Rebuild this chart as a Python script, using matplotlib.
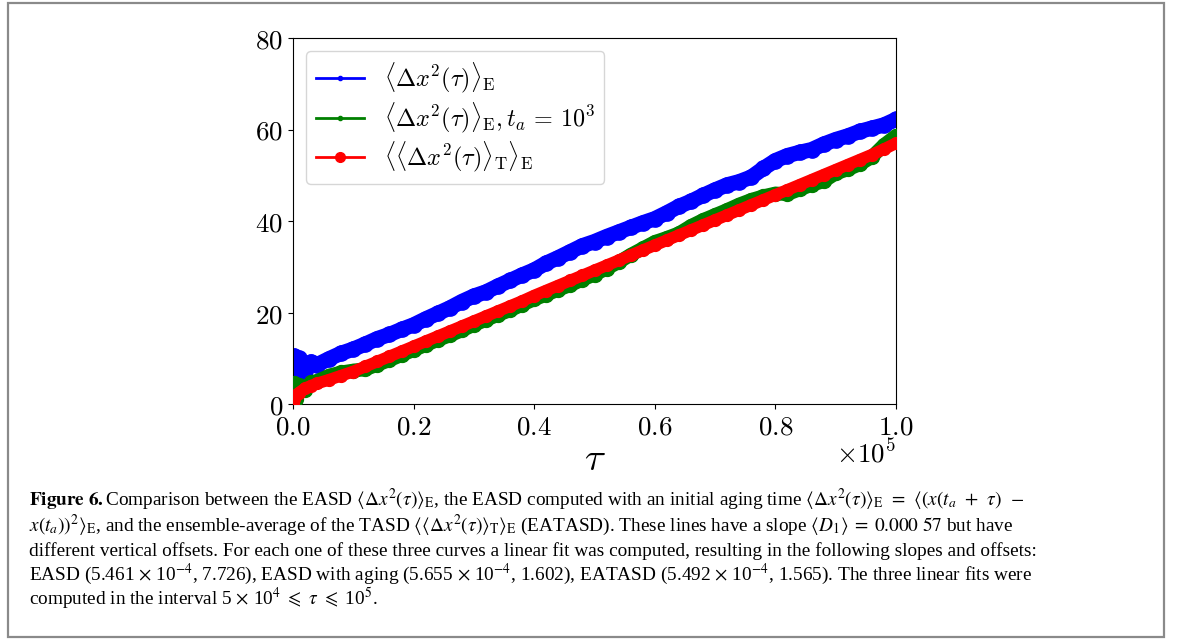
import matplotlib
matplotlib.use('Agg')
import matplotlib.pyplot as plt
from matplotlib.lines import Line2D
from matplotlib.patches import Rectangle
from matplotlib.ticker import FuncFormatter, MultipleLocator
import numpy as np

plt.rcParams['mathtext.fontset'] = 'cm'
plt.rcParams['font.family'] = 'serif'

# lag time tau, in units of 10^3
tau_k = [0, 0.2, 0.5, 1, 2, 3, 4,
         6, 8, 10, 12, 14, 16, 18, 20, 22, 24, 26, 28, 30, 32, 34, 36, 38, 40,
         42, 44, 46, 48, 50, 52, 54, 56, 58, 60, 62, 64, 66, 68, 70, 72, 74, 76,
         78, 80, 82, 84, 86, 88, 90, 92, 94, 96, 98, 100]

# EASD <dx^2(tau)>_E
easd = [0.0, 10.5, 6.5, 10.0, 7.2, 9.2, 8.6,
        9.9, 11.1, 12.0, 13.1, 14.3, 15.2, 16.3, 17.3, 18.6, 19.8, 21.0, 22.4,
        23.6, 24.5, 25.8, 27.0, 28.2, 29.3, 30.8, 32.0, 33.3, 34.6, 35.5, 36.6,
        37.6, 38.6, 39.6, 40.5, 41.8, 43.2, 44.3, 45.6, 46.8, 47.9, 48.6, 49.6,
        51.5, 53.2, 54.3, 55.0, 55.6, 56.8, 57.8, 58.6, 59.6, 60.3, 61.0, 62.2]

# EASD with aging time t_a = 10^3
easd_aging = [0.0, 4.6, 1.0, 4.2, 3.0, 4.8, 5.0,
              6.2, 6.9, 7.3, 7.6, 8.6, 9.6, 10.7, 11.8, 12.9, 14.0, 15.0, 16.1,
              17.3, 18.4, 19.5, 20.5, 21.7, 22.9, 23.9, 25.0, 26.0, 27.2, 28.3,
              29.6, 31.0, 32.6, 34.0, 35.4, 36.3, 37.3, 38.9, 40.2, 41.3, 42.4,
              43.6, 44.6, 45.4, 46.0, 45.9, 46.9, 47.9, 48.7, 50.4, 51.3, 52.4,
              54.0, 56.6, 58.6]

# ensemble average of the TASD
eatasd = [0.0, 1.2, 1.9, 2.5, 3.4, 4.0, 4.5,
          5.3, 6.2, 7.1, 8.2, 9.3, 10.4, 11.5, 12.6, 13.7, 14.8, 15.9, 17.0,
          18.1, 19.2, 20.3, 21.4, 22.5, 23.7, 24.8, 25.9, 27.0, 28.1, 29.2,
          30.3, 31.4, 32.5, 33.6, 34.7, 35.8, 36.9, 38.0, 39.1, 40.2, 41.3,
          42.4, 43.5, 44.6, 45.7, 46.8, 47.9, 49.0, 50.1, 51.2, 52.3, 53.4,
          54.5, 55.7, 57.0]

labels = [r'$\langle \Delta x^2(\tau)\rangle_{\mathrm{E}}$',
          r'$\langle \Delta x^2(\tau)\rangle_{\mathrm{E}}, t_a \,=\, 10^3$',
          r'$\langle\langle \Delta x^2(\tau)\rangle_{\mathrm{T}}\rangle_{\mathrm{E}}$']

caption_lines = [
    r'$\mathbf{Figure\ 6.}$Comparison between the EASD $\langle\Delta x^2(\tau)\rangle_{\mathrm{E}}$, the EASD computed with an initial aging time '
    r'$\langle\Delta x^2(\tau)\rangle_{\mathrm{E}}\;\,=\;\,\langle(x(t_a\;\,+\;\,\tau)\;\,-$',
    r'$x(t_a))^2\rangle_{\mathrm{E}}$, and the ensemble-average of the TASD '
    r'$\langle\langle\Delta x^2(\tau)\rangle_{\mathrm{T}}\rangle_{\mathrm{E}}$ (EATASD). These lines have a slope '
    r'$\langle D_1\rangle\;=\;0.000\ 57$ but have',
    r'different vertical offsets. For each one of these three curves a linear fit was computed, resulting in the following slopes and offsets:',
    r'EASD (5.461 $\times$ 10$^{-4}$, 7.726), EASD with aging (5.655 $\times$ 10$^{-4}$, 1.602), '
    r'EATASD (5.492 $\times$ 10$^{-4}$, 1.565). The three linear fits were',
    r'computed in the interval 5 $\times$ 10$^4$ $\leqslant$ $\tau$ $\leqslant$ 10$^5$.',
]

W, H = 1181, 639
fig = plt.figure(figsize=(W / 100, H / 100), dpi=100)
ax = fig.add_axes([293 / W, 1 - 404 / H, (896 - 293) / W, (404 - 38) / H])

tau = np.array(tau_k) * 1e3
ax.plot(tau, easd, color='blue', lw=11, marker='o', ms=11,
        solid_joinstyle='round', solid_capstyle='round', zorder=2)
ax.plot(tau, easd_aging, color='green', lw=10, marker='o', ms=10,
        solid_joinstyle='round', solid_capstyle='round', zorder=3)
ax.plot(tau, eatasd, color='red', lw=8.5, marker='o', ms=8.5,
        solid_joinstyle='round', solid_capstyle='round', zorder=4)

ax.set_xlim(0, 1e5)
ax.set_ylim(0, 80)
ax.xaxis.set_major_locator(MultipleLocator(2e4))
ax.yaxis.set_major_locator(MultipleLocator(20))
ax.xaxis.set_major_formatter(FuncFormatter(lambda v, p: '$%.1f$' % (v / 1e5)))
ax.yaxis.set_major_formatter(FuncFormatter(lambda v, p: '$%d$' % v))
ax.tick_params(labelsize=19.5)
ax.set_xlabel(r'$\tau$', fontsize=28, labelpad=0)
ax.text(1.0, -0.161, r'$\times10^{5}$', transform=ax.transAxes,
        ha='right', va='baseline', fontsize=19.5)

handles = [Line2D([], [], color='blue', lw=2, marker='.', ms=6),
           Line2D([], [], color='green', lw=2, marker='.', ms=6),
           Line2D([], [], color='red', lw=2, marker='o', ms=7)]
ax.legend(handles, labels, loc='upper left', fontsize=17.4, labelspacing=0.22,
          borderaxespad=0.55)

# caption
cap_kw = dict(fontfamily='Liberation Serif', math_fontfamily='stix', fontsize=13.9)
y0 = 1 - 506 / H
dy = 24.8 / H
for i, line in enumerate(caption_lines):
    fig.text(29 / W, y0 - i * dy, line, va='baseline', **cap_kw)

fig.patches.append(Rectangle((8 / W, 2 / H), (1164 - 8) / W, (636 - 2) / H,
                             transform=fig.transFigure, fill=False,
                             edgecolor='#8a8a8a', lw=1.6))

fig.savefig('out.png', dpi=100)
